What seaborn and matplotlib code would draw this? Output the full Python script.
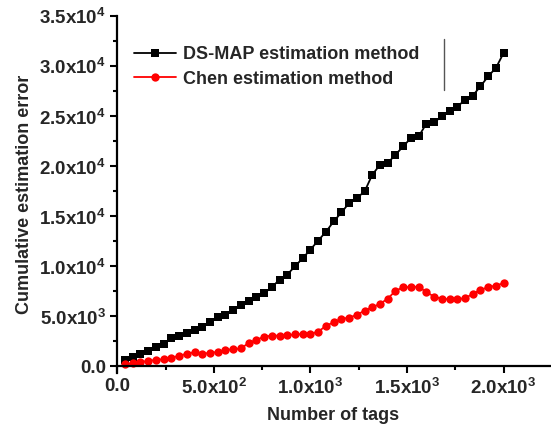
import numpy as np
import pandas as pd
import matplotlib
matplotlib.use('Agg')
import matplotlib.pyplot as plt
import seaborn as sns
from matplotlib.ticker import FixedLocator, FixedFormatter, MultipleLocator

sns.set_style('ticks')
plt.rcParams['font.family'] = ['Liberation Sans', 'DejaVu Sans']
plt.rcParams['font.weight'] = 'bold'
plt.rcParams['mathtext.fontset'] = 'custom'
plt.rcParams['mathtext.rm'] = 'Liberation Sans:bold'
plt.rcParams['mathtext.bf'] = 'Liberation Sans:bold'

# ==============================
# DATA
# ==============================
tags = [40, 80, 120, 160, 200, 240, 280, 320, 360, 400,
        440, 480, 520, 560, 600, 640, 680, 720, 760, 800,
        840, 880, 920, 960, 1000, 1040, 1080, 1120, 1160, 1200,
        1240, 1280, 1320, 1360, 1400, 1440, 1480, 1520, 1560, 1600,
        1640, 1680, 1720, 1760, 1800, 1840, 1880, 1920, 1960, 2000]

ds_map = [650, 980, 1230, 1510, 1930, 2280, 2830, 3030, 3380, 3610,
          3950, 4460, 4980, 5180, 5610, 6110, 6510, 6980, 7320, 7920,
          8680, 9180, 10010, 10820, 11680, 12580, 13450, 14480, 15380, 16320,
          16820, 17480, 19150, 20150, 20320, 21150, 21980, 22820, 22980, 24250,
          24380, 24980, 25550, 25920, 26650, 27050, 27980, 28980, 29820, 31320]

chen = [250, 320, 420, 570, 650, 730, 880, 1060, 1270, 1430,
        1280, 1350, 1460, 1650, 1720, 1800, 2350, 2650, 2980, 3080,
        3080, 3100, 3220, 3220, 3250, 3480, 4050, 4420, 4750, 4880,
        5150, 5580, 5920, 6250, 6780, 7550, 7920, 7920, 7980, 7420,
        6980, 6750, 6720, 6720, 6820, 7250, 7650, 7920, 8080, 8320]

series_names = ['DS-MAP estimation method', 'Chen estimation method']

x_ticks = [0, 500, 1000, 1500, 2000]
x_tick_labels = ['0.0', r'5.0x10$^{2}$', r'1.0x10$^{3}$', r'1.5x10$^{3}$', r'2.0x10$^{3}$']
y_ticks = [0, 5000, 10000, 15000, 20000, 25000, 30000, 35000]
y_tick_labels = ['0.0', r'5.0x10$^{3}$', r'1.0x10$^{4}$', r'1.5x10$^{4}$',
                 r'2.0x10$^{4}$', r'2.5x10$^{4}$', r'3.0x10$^{4}$', r'3.5x10$^{4}$']

df = pd.DataFrame({'tags': tags, 'ds_map': ds_map, 'chen': chen})

# ==============================
# PLOT
# ==============================
fig = plt.figure(figsize=(5.51, 4.26), dpi=100)
ax = fig.add_axes([117.3 / 551, (426 - 372.5) / 426, (551 - 117.3) / 551, (372.5 - 16) / 426])

sns.lineplot(data=df, x='tags', y='ds_map', ax=ax, color='black', marker='s',
             markersize=5.8, markeredgewidth=0, linewidth=1.3, label=series_names[0])
sns.lineplot(data=df, x='tags', y='chen', ax=ax, color='#ff0000', marker='o',
             markersize=6, markeredgewidth=0, linewidth=1.3, label=series_names[1])

ax.set_xlim(0, 2245)
ax.set_ylim(-600, 35000)
ax.spines['bottom'].set_position(('data', 0))
ax.spines['top'].set_visible(False)
ax.spines['right'].set_visible(False)
for s in ['left', 'bottom']:
    ax.spines[s].set_linewidth(1.6)
    ax.spines[s].set_color('black')

ax.xaxis.set_major_locator(FixedLocator(x_ticks))
ax.xaxis.set_major_formatter(FixedFormatter(x_tick_labels))
ax.xaxis.set_minor_locator(MultipleLocator(250))
ax.yaxis.set_major_locator(FixedLocator(y_ticks))
ax.yaxis.set_major_formatter(FixedFormatter(y_tick_labels))
ax.yaxis.set_minor_locator(MultipleLocator(2500))
ax.tick_params(which='major', direction='out', length=5, width=1.5, labelsize=13.5, color='black', pad=3)
ax.tick_params(which='minor', direction='out', length=3, width=1.5, color='black')

ax.set_xlabel('Number of tags', fontsize=13, fontweight='bold')
ax.set_ylabel('Cumulative estimation error', fontsize=13, fontweight='bold')
ax.xaxis.set_label_coords(0.497, -0.097)
ax.yaxis.set_label_coords(-0.195, 0.5)

leg = ax.legend(loc='upper left', bbox_to_anchor=(0.0385, 0.916), frameon=False,
                fontsize=13, handlelength=2.3, handletextpad=0.4,
                labelspacing=0.42, borderpad=0, borderaxespad=0)
for t in leg.get_texts():
    t.set_fontweight('bold')

# leftover edge of the legend box in the original
ax.plot([0.753, 0.753], [0.792, 0.935], transform=ax.transAxes, color='#555555',
        linewidth=1, clip_on=False)

fig.savefig('out.png', dpi=100)
